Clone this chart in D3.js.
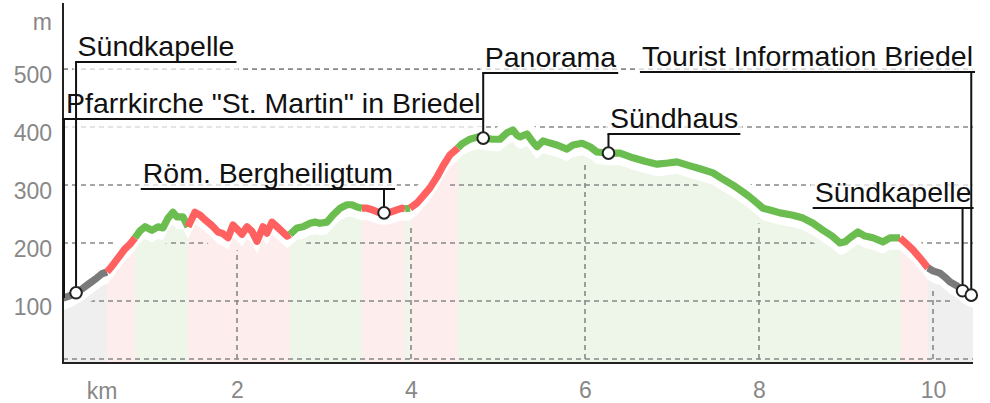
<!DOCTYPE html>
<html><head><meta charset="utf-8">
<script src="https://cdn.jsdelivr.net/npm/d3@7"></script>
<style>
body{margin:0;background:#fff}
svg{display:block;font-family:"Liberation Sans",Arial,sans-serif}
</style>
</head><body>
<svg id="chart" width="990" height="403"></svg>
<script>
// ---------------- data ----------------
const profileKm = [0.000,0.080,0.149,0.230,0.310,0.391,0.448,0.506,0.563,0.632,0.713,0.770,0.828,0.885,0.943,1.023,1.092,1.149,1.207,1.264,1.310,1.379,1.437,1.517,1.575,1.632,1.713,1.782,1.839,1.897,1.954,2.000,2.057,2.115,2.172,2.230,2.299,2.345,2.402,2.460,2.517,2.575,2.609,2.690,2.759,2.839,2.897,2.954,3.034,3.103,3.184,3.264,3.322,3.379,3.437,3.494,3.563,3.621,3.690,3.759,3.839,3.897,3.931,3.989,4.069,4.138,4.218,4.299,4.368,4.448,4.540,4.586,4.678,4.770,4.828,4.943,5.023,5.103,5.172,5.218,5.253,5.333,5.402,5.448,5.517,5.563,5.678,5.793,5.862,5.966,6.057,6.138,6.264,6.402,6.552,6.690,6.828,6.954,7.057,7.207,7.322,7.471,7.586,7.701,7.816,7.897,7.977,8.046,8.126,8.241,8.391,8.506,8.621,8.736,8.839,8.931,8.989,9.046,9.138,9.218,9.310,9.425,9.506,9.621,9.701,9.770,9.851,9.943,10.000,10.080,10.138,10.195,10.276,10.345,10.402,10.460];
const profileElev = [105,109,114,122,131,140,147,150,160,174,190,198,209,221,228,222,228,226,243,253,245,245,228,253,248,240,230,219,216,209,231,224,215,228,220,203,228,217,236,228,220,212,215,226,228,234,236,234,236,248,260,266,266,262,260,260,257,253,252,253,257,260,259,260,269,281,295,314,333,352,364,371,379,383,381,379,379,390,395,386,383,388,374,366,376,374,369,362,369,372,366,357,355,355,347,341,336,338,340,333,328,321,310,300,288,279,269,260,257,252,248,243,234,222,212,200,202,209,219,212,209,202,209,209,198,188,174,157,152,148,141,133,126,117,112,109];

const segmentStartKm = [0, 0.506, 0.828, 1.437, 2.609, 3.437, 3.931, 3.989, 4.540, 9.621, 9.943];
const segmentEndKm   = [0.506, 0.828, 1.437, 2.609, 3.437, 3.931, 3.989, 4.540, 9.621, 9.943, 10.460];
const segmentClass   = ["grey","red","green","red","green","red","green","red","green","red","grey"];

const waypointNames = ["Pfarrkirche \"St. Martin\" in Briedel","Sündkapelle","Röm. Bergheiligtum","Panorama","Sündhaus","Sündkapelle","Tourist Information Briedel"];
const waypointKm    = [0, 0.15, 3.69, 4.83, 6.27, 10.34, 10.44];

const yTickValues = [100, 200, 300, 400, 500];
const yGridValues = [0, 100, 200, 300, 400, 500];
const xTickValues = [2, 4, 6, 8, 10];
const yUnitLabel = "m";
const xUnitLabel = "km";

// ---------------- styles / layout ----------------
const lineColor = {grey:"#7a7a7a", red:"#ff6060", green:"#6abd4e"};
const fillColor = {grey:"#efefef", red:"#fdeded", green:"#eef6ea"};
const labelLayout = [
  {anchor:"start", baseline:113, marker:false},
  {anchor:"start", baseline:56,  marker:true},
  {anchor:"end",   baseline:183, marker:true},
  {anchor:"start", baseline:67,  marker:true},
  {anchor:"start", baseline:128, marker:true},
  {anchor:"end",   baseline:202, marker:true},
  {anchor:"end",   baseline:66,  marker:true}
];

const W = 990, H = 403;
const x = d3.scaleLinear().domain([0, 10.46]).range([63, 973]);
const y = d3.scaleLinear().domain([-7, 614]).range([363, 3]);

const pts = profileKm.map((k,i)=>({km:k, e:profileElev[i]}));
function elevAt(km){
  const i = d3.bisectLeft(profileKm, km);
  if (i <= 0) return profileElev[0];
  if (i >= profileKm.length) return profileElev[profileKm.length-1];
  const k0 = profileKm[i-1], k1 = profileKm[i];
  const t = (km-k0)/(k1-k0);
  return profileElev[i-1] + (profileElev[i]-profileElev[i-1])*t;
}

const svg = d3.select("#chart");
const defs = svg.append("defs");

const line = d3.line().x(d=>x(d.km)).y(d=>y(d.e));
const area = d3.area().x(d=>x(d.km)).y0(y(-7)-1).y1(d=>y(d.e)+12);

// mask for gridlines near profile
const mask = defs.append("mask").attr("id","gridmask")
  .attr("maskUnits","userSpaceOnUse").attr("x",0).attr("y",0).attr("width",W).attr("height",H);
mask.append("rect").attr("width",W).attr("height",H).attr("fill","#fff");
mask.append("path").attr("d", line(pts)).attr("transform","translate(0,3)")
  .attr("fill","none").attr("stroke","#000").attr("stroke-width",26).attr("stroke-linejoin","round");

const segs = segmentStartKm.map((s,i)=>({
  cls: segmentClass[i],
  pts: pts.filter(p=>p.km >= s-1e-6 && p.km <= segmentEndKm[i]+1e-6)
}));

// fills
svg.append("g").selectAll("path").data(segs).join("path")
  .attr("d", d=>area(d.pts)).attr("fill", d=>fillColor[d.cls]);

// gridlines
const grid = svg.append("g").attr("mask","url(#gridmask)")
  .attr("stroke","#888").attr("stroke-width",1.6).attr("stroke-dasharray","5,4");
grid.selectAll("line.h").data(yGridValues).join("line").attr("class","h")
  .attr("x1", x(0)).attr("x2", x(10.46)).attr("y1", d=>y(d)).attr("y2", d=>y(d));
grid.selectAll("line.v").data(xTickValues).join("line").attr("class","v")
  .attr("x1", d=>x(d)).attr("x2", d=>x(d)).attr("y1", y(0)).attr("y2", d=>y(elevAt(d)));

// label backgrounds (after measuring)
const labelBgG = svg.append("g");

// profile line segments
svg.append("g").selectAll("path").data(segs).join("path")
  .attr("d", d=>line(d.pts)).attr("fill","none")
  .attr("stroke", d=>lineColor[d.cls]).attr("stroke-width",7.2)
  .attr("stroke-linejoin","round").attr("stroke-linecap","butt");

// axes lines
svg.append("line").attr("x1",x(0)).attr("x2",x(0)).attr("y1",3).attr("y2",y(-7)+1)
  .attr("stroke","#222").attr("stroke-width",2);
svg.append("line").attr("x1",x(0)-1).attr("x2",x(10.46)).attr("y1",y(-7)).attr("y2",y(-7))
  .attr("stroke","#222").attr("stroke-width",2);

// axis labels
const yAxis = svg.append("g").attr("transform",`translate(${x(0)},0)`)
  .call(d3.axisLeft(y).tickValues(yTickValues).tickSize(0).tickPadding(11));
yAxis.select(".domain").remove();
yAxis.selectAll("text").attr("font-size",23).attr("fill","#888")
  .attr("font-family","'Liberation Sans',Arial,sans-serif").attr("dy","0.58em");
const xAxis = svg.append("g").attr("transform",`translate(0,${y(-7)})`)
  .call(d3.axisBottom(x).tickValues(xTickValues).tickSize(0).tickPadding(19));
xAxis.select(".domain").remove();
xAxis.selectAll("text").attr("font-size",23).attr("fill","#888")
  .attr("font-family","'Liberation Sans',Arial,sans-serif");
svg.append("text").text(yUnitLabel).attr("x",52).attr("y",30).attr("text-anchor","end")
  .attr("font-size",23).attr("fill","#888");
svg.append("text").text(xUnitLabel).attr("x",102).attr("y",399).attr("text-anchor","middle")
  .attr("font-size",23).attr("fill","#888");

// waypoint labels
const labG = svg.append("g");
waypointNames.forEach((name,i)=>{
  const L = labelLayout[i];
  const mx = x(waypointKm[i]);
  const my = y(elevAt(waypointKm[i]));
  const t = labG.append("text").text(name).attr("font-size",28.5).attr("fill","#111")
    .attr("y", L.baseline);
  const w = t.node().getComputedTextLength();
  let tx;
  if (L.anchor === "start") tx = Math.max(mx + 1.5, 66);
  else tx = Math.min(mx + 9, 973) - w;
  t.attr("x", tx);
  const uy = L.baseline + 6;
  const ux1 = L.anchor === "start" ? Math.min(mx - 1, tx - 1) : tx - 2;
  const ux2 = tx + w + 2;
  labelBgG.append("rect").attr("x", ux1 - 2).attr("y", L.baseline - 27)
    .attr("width", ux2 - ux1 + 4).attr("height", uy - L.baseline + 37)
    .attr("fill","#fff").attr("fill-opacity",0.7);
  labG.append("line").attr("x1",ux1).attr("x2",ux2).attr("y1",uy).attr("y2",uy)
    .attr("stroke","#111").attr("stroke-width",2.2);
  const lx = L.marker ? mx : x(0) + 1;
  labG.append("line").attr("x1",lx).attr("x2",lx).attr("y1",uy)
    .attr("y2", L.marker ? my - 6 : my).attr("stroke","#111").attr("stroke-width",2);
  if (L.marker) {
    labG.append("circle").attr("cx",mx).attr("cy",my).attr("r",5.8)
      .attr("fill","#fff").attr("stroke","#222").attr("stroke-width",2);
  }
});
labG.raise();
</script>
</body></html>
